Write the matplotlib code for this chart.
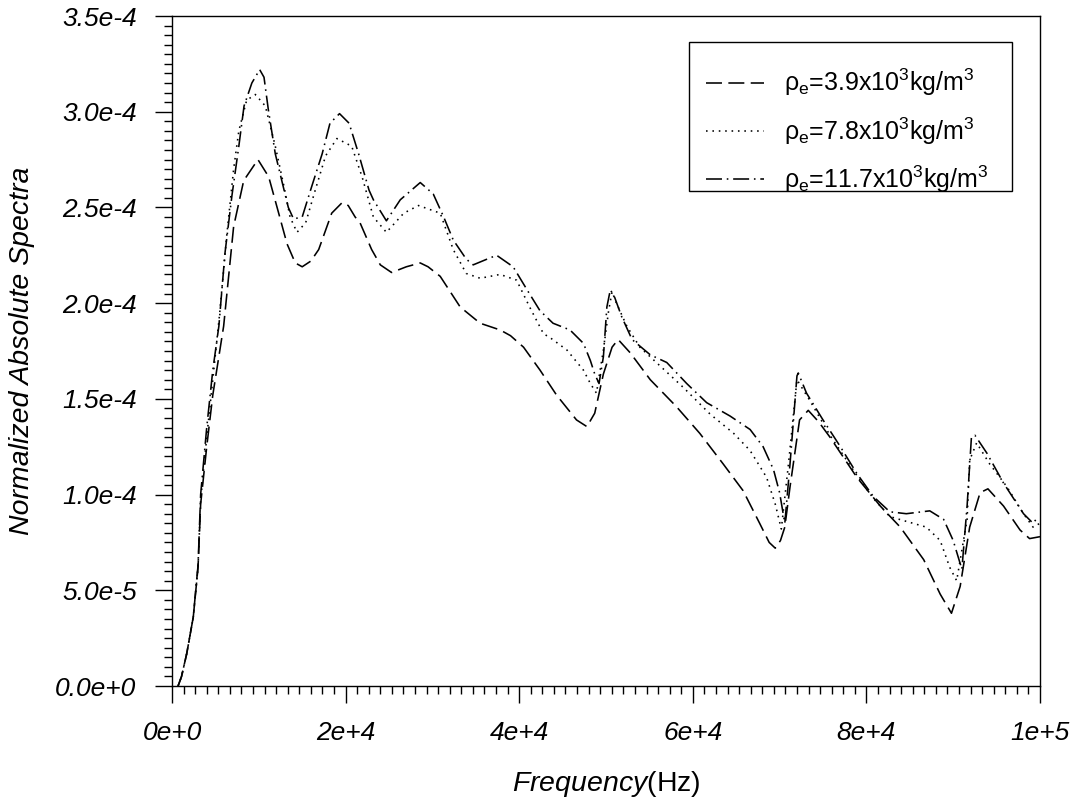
import matplotlib
matplotlib.use("Agg")
import matplotlib.pyplot as plt
from matplotlib.ticker import MultipleLocator
from matplotlib.patches import Rectangle

plt.rcParams['font.family'] = ['Liberation Sans', 'DejaVu Sans']
plt.rcParams['mathtext.fontset'] = 'custom'
plt.rcParams['mathtext.rm'] = 'Liberation Sans'
plt.rcParams['mathtext.it'] = 'Liberation Sans:italic'

# ---- data (frequency in 1e4 Hz, spectra values in 1e-4) ----
freq_a = [0.07, 0.11, 0.17, 0.245, 0.30, 0.33, 0.40, 0.47, 0.595, 0.71, 0.826, 0.99, 1.114, 1.229,
          1.325, 1.42, 1.50, 1.60, 1.69, 1.84, 1.96, 2.03, 2.11, 2.166, 2.30, 2.40, 2.53, 2.70, 2.86,
          2.95, 3.09, 3.32, 3.55, 3.78, 3.90, 4.05, 4.24, 4.43, 4.66, 4.78, 4.87, 4.97, 5.07, 5.14,
          5.28, 5.51, 5.81, 6.08, 6.35, 6.58, 6.77, 6.88, 6.95, 7.01, 7.06, 7.12, 7.23, 7.33, 7.45,
          7.58, 7.89, 8.16, 8.39, 8.66, 8.85, 8.98, 9.08, 9.19, 9.31, 9.40, 9.58, 9.77, 9.88, 10.0]
spec_a = [0.0, 0.05, 0.17, 0.36, 0.62, 0.95, 1.25, 1.52, 1.88, 2.40, 2.64, 2.75, 2.66, 2.47,
          2.31, 2.21, 2.19, 2.22, 2.28, 2.47, 2.525, 2.51, 2.45, 2.42, 2.28, 2.20, 2.16, 2.19, 2.21,
          2.19, 2.14, 1.98, 1.895, 1.86, 1.83, 1.77, 1.65, 1.52, 1.39, 1.355, 1.425, 1.63, 1.77, 1.81,
          1.74, 1.60, 1.46, 1.32, 1.16, 1.02, 0.85, 0.75, 0.72, 0.76, 0.83, 1.04, 1.39, 1.44, 1.38,
          1.30, 1.09, 0.94, 0.83, 0.66, 0.48, 0.38, 0.52, 0.83, 1.01, 1.03, 0.94, 0.815, 0.77, 0.78]

freq_b = [0.07, 0.11, 0.17, 0.245, 0.30, 0.33, 0.40, 0.47, 0.55, 0.63, 0.71, 0.77, 0.86, 0.96,
          1.075, 1.19, 1.29, 1.36, 1.44, 1.54, 1.65, 1.77, 1.90, 2.07, 2.19, 2.32, 2.47, 2.67, 2.84,
          3.09, 3.24, 3.39, 3.55, 3.78, 3.97, 4.12, 4.28, 4.355, 4.55, 4.74, 4.82, 4.89, 4.97, 5.03,
          5.07, 5.12, 5.24, 5.39, 5.58, 5.89, 6.20, 6.47, 6.66, 6.85, 6.95, 7.02, 7.10, 7.20, 7.35,
          7.58, 7.89, 8.08, 8.27, 8.46, 8.69, 8.85, 8.96, 9.04, 9.16, 9.19, 9.27, 9.42, 9.62, 9.81,
          9.92, 10.0]
spec_b = [0.0, 0.05, 0.17, 0.36, 0.62, 0.97, 1.30, 1.60, 1.95, 2.35, 2.70, 2.90, 3.06, 3.09,
          3.03, 2.82, 2.61, 2.45, 2.37, 2.42, 2.59, 2.77, 2.86, 2.82, 2.66, 2.45, 2.37, 2.47, 2.51,
          2.47, 2.28, 2.155, 2.13, 2.15, 2.12, 1.98, 1.84, 1.82, 1.755, 1.65, 1.58, 1.53, 1.755, 1.96,
          2.06, 2.00, 1.88, 1.77, 1.69, 1.56, 1.42, 1.32, 1.23, 1.09, 0.95, 0.82, 1.15, 1.60, 1.49,
          1.31, 1.10, 0.98, 0.885, 0.86, 0.83, 0.76, 0.62, 0.55, 0.87, 1.18, 1.27, 1.16, 1.04, 0.90,
          0.83, 0.85]

freq_c = [0.07, 0.11, 0.17, 0.245, 0.30, 0.33, 0.40, 0.47, 0.54, 0.61, 0.69, 0.77, 0.83, 0.92,
          1.01, 1.06, 1.11, 1.19, 1.27, 1.34, 1.40, 1.50, 1.61, 1.73, 1.82, 1.93, 2.04, 2.15, 2.27,
          2.32, 2.47, 2.63, 2.86, 3.01, 3.13, 3.24, 3.39, 3.47, 3.63, 3.74, 3.93, 4.09, 4.24, 4.39,
          4.585, 4.74, 4.82, 4.87, 4.92, 4.97, 5.01, 5.05, 5.10, 5.18, 5.30, 5.51, 5.70, 5.93, 6.16,
          6.43, 6.66, 6.81, 6.93, 7.00, 7.06, 7.12, 7.20, 7.215, 7.31, 7.50, 7.70, 7.89, 8.08, 8.27,
          8.46, 8.73, 8.89, 9.00, 9.10, 9.16, 9.21, 9.25, 9.39, 9.58, 9.81, 9.92, 9.98]
spec_c = [0.0, 0.05, 0.17, 0.36, 0.63, 1.00, 1.35, 1.65, 1.88, 2.26, 2.56, 2.82, 3.03, 3.15,
          3.22, 3.18, 3.01, 2.78, 2.63, 2.50, 2.44, 2.45, 2.61, 2.78, 2.94, 2.99, 2.94, 2.78, 2.59,
          2.54, 2.43, 2.54, 2.63, 2.57, 2.45, 2.33, 2.23, 2.20, 2.23, 2.25, 2.19, 2.07, 1.96, 1.895,
          1.86, 1.79, 1.70, 1.63, 1.58, 1.72, 1.98, 2.07, 2.03, 1.93, 1.81, 1.73, 1.69, 1.58, 1.48,
          1.41, 1.34, 1.25, 1.13, 1.01, 0.85, 1.16, 1.62, 1.635, 1.53, 1.39, 1.25, 1.11, 0.99, 0.91,
          0.90, 0.915, 0.87, 0.76, 0.61, 0.94, 1.30, 1.31, 1.215, 1.06, 0.90, 0.85, 0.885]

freq_scale = 1e4
spec_scale = 1e-4

labels = [r'ρ$_\mathregular{e}$=3.9x10$^\mathregular{3}$kg/m$^\mathregular{3}$',
          r'ρ$_\mathregular{e}$=7.8x10$^\mathregular{3}$kg/m$^\mathregular{3}$',
          r'ρ$_\mathregular{e}$=11.7x10$^\mathregular{3}$kg/m$^\mathregular{3}$']

xticks = [0, 2e4, 4e4, 6e4, 8e4, 1e5]
xticklabels = ['0e+0', '2e+4', '4e+4', '6e+4', '8e+4', '1e+5']
yticks = [0, 0.5e-4, 1.0e-4, 1.5e-4, 2.0e-4, 2.5e-4, 3.0e-4, 3.5e-4]
yticklabels = ['0.0e+0', '5.0e-5', '1.0e-4', '1.5e-4', '2.0e-4', '2.5e-4', '3.0e-4', '3.5e-4']

W, H = 1085, 806
fig = plt.figure(figsize=(W / 100, H / 100), dpi=100)
ax_l, ax_t, ax_r, ax_b = 172, 16, 1040, 686
ax = fig.add_axes([ax_l / W, 1 - ax_b / H, (ax_r - ax_l) / W, (ax_b - ax_t) / H])


def axfrac(px, py):
    return (px - ax_l) / (ax_r - ax_l), (ax_b - py) / (ax_b - ax_t)


lw = 1.15
series = [(freq_a, spec_a, (0, (10, 4))),
          (freq_b, spec_b, (0, (1, 3))),
          (freq_c, spec_c, (0, (10, 3, 1, 3)))]
for (f, s, ls), lab in zip(series, labels):
    ax.plot([x * freq_scale for x in f], [y * spec_scale for y in s],
            color='black', lw=lw, linestyle=ls, label=lab)

ax.set_xlim(0, 1e5)
ax.set_ylim(0, 3.5e-4)
ax.set_xticks(xticks, labels=xticklabels)
ax.set_yticks(yticks, labels=yticklabels)
ax.xaxis.set_minor_locator(MultipleLocator(2e4 / 15))
ax.yaxis.set_minor_locator(MultipleLocator(5e-6))
ax.tick_params(which='major', direction='out', length=12.5, width=1.0, labelsize=19, pad=13)
ax.tick_params(which='minor', direction='out', length=5.5, width=1.0)
for t in ax.get_xticklabels() + ax.get_yticklabels():
    t.set_fontstyle('italic')
for sp in ax.spines.values():
    sp.set_linewidth(1.0)

ax.set_ylabel('Normalized Absolute Spectra', fontsize=20.5, fontstyle='italic')
ax.yaxis.set_label_coords(-0.158, 0.5)
ax.set_xlabel(r'$\mathit{Frequency(}$Hz$\mathit{)}$', fontsize=20.5)
ax.xaxis.set_label_coords(0.5, -0.124)

# legend entries (no frame) + separate rectangular frame
leg = ax.legend(loc='upper left', bbox_to_anchor=axfrac(706, 67),
                fontsize=18, frameon=False,
                handlelength=2.32, handletextpad=0.8, labelspacing=0.68,
                borderpad=0.0, borderaxespad=0)
x0, y0 = axfrac(689, 191)
x1, y1 = axfrac(1012, 42)
ax.add_patch(Rectangle((x0, y0), x1 - x0, y1 - y0, transform=ax.transAxes,
                       fill=False, edgecolor='black', lw=1.0, zorder=5))

fig.savefig('out.png', dpi=100)
